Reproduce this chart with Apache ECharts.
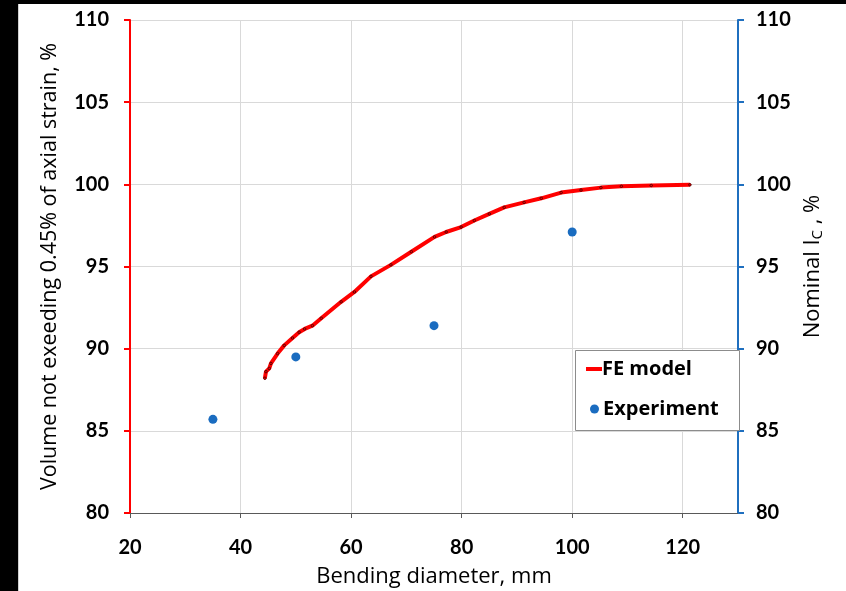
<!DOCTYPE html>
<html>
<head>
<meta charset="utf-8">
<script src="https://cdn.jsdelivr.net/npm/echarts@6/dist/echarts.min.js"></script>
<style>
html,body{margin:0;padding:0;background:#000;width:846px;height:591px;overflow:hidden;}
#chart{position:absolute;left:18px;top:4px;width:828px;height:587px;background:#fff;box-sizing:border-box;border-left:1px solid #d0d0d0;}
</style>
</head>
<body>
<div id="chart"></div>
<script>
// FE model curve (bending diameter mm, volume %)
var feX = [44.4, 44.6, 45.2, 45.5, 46.7, 47.9, 49.4, 50.6, 51.6, 53.0, 54.6, 58.2, 60.6, 63.6, 67.2, 70.9, 75.1, 77.2, 79.9, 82.3, 85.0, 87.7, 91.3, 94.4, 98.0, 101.6, 105.2, 108.9, 114.3, 121.3];
var feY = [88.2, 88.6, 88.8, 89.1, 89.7, 90.2, 90.65, 91.0, 91.2, 91.4, 91.85, 92.85, 93.45, 94.4, 95.1, 95.9, 96.8, 97.1, 97.4, 97.8, 98.2, 98.6, 98.9, 99.15, 99.5, 99.65, 99.8, 99.88, 99.93, 99.97];
// Experiment
var expX = [35, 50, 75, 100];
var expY = [85.7, 89.5, 91.4, 97.1];
var yTicks = [80, 85, 90, 95, 100, 105, 110];

var FONT = 'Lato, "Open Sans", sans-serif';
var TFONT = '"Open Sans", Lato, sans-serif';
var chart = echarts.init(document.getElementById('chart'));
var fe = feX.map(function (x, i) { return [x, feY[i]]; });
var ex = expX.map(function (x, i) { return [x, expY[i]]; });

chart.setOption({
  animation: false,
  textStyle: { fontFamily: FONT },
  grid: { left: 111, top: 16, right: 108, bottom: 78, outerBoundsMode: 'none', containLabel: false },
  xAxis: {
    type: 'value', min: 20, max: 130, interval: 20,
    name: 'Bending diameter, mm', nameLocation: 'middle', nameGap: 53,
    nameTextStyle: { fontSize: 22, color: '#000', fontFamily: TFONT },
    axisLine: { show: true, onZero: false, lineStyle: { color: '#595959', width: 1 } },
    axisTick: { show: true, inside: false, length: 5, lineStyle: { color: '#595959' } },
    axisLabel: { fontSize: 20, fontWeight: 'bold', color: '#000', margin: 25, showMaxLabel: false, fontFamily: FONT },
    splitLine: { show: true, lineStyle: { color: '#d9d9d9', width: 1 } }
  },
  yAxis: [{
    type: 'value', min: yTicks[0], max: yTicks[yTicks.length - 1], interval: 5,
    position: 'left',
    name: 'Volume not exeeding 0.45% of axial strain, %', nameLocation: 'middle', nameGap: 69, nameRotate: 90,
    nameTextStyle: { fontSize: 21.5, color: '#000', fontFamily: TFONT, padding: [0, 0, 0, 0] },
    axisLine: { show: true, lineStyle: { color: '#ff0000', width: 2 } },
    axisTick: { show: true, length: 6, lineStyle: { color: '#ff0000', width: 2 } },
    axisLabel: { fontSize: 20, fontWeight: 'bold', color: '#000', margin: 21, fontFamily: FONT },
    splitLine: { show: true, lineStyle: { color: '#d9d9d9', width: 1 } }
  }, {
    type: 'value', min: yTicks[0], max: yTicks[yTicks.length - 1], interval: 5,
    position: 'right',
    name: '{a|Nominal I}{s|C}{a| , %}', nameLocation: 'middle', nameGap: 50, nameRotate: 90,
    nameTextStyle: {
      color: '#000',
      rich: {
        a: { fontSize: 22, color: '#000', fontFamily: TFONT },
        s: { fontSize: 15, color: '#000', fontFamily: TFONT, padding: [10, 0, 0, 0] }
      }
    },
    axisLine: { show: true, lineStyle: { color: '#1f6fbf', width: 2 } },
    axisTick: { show: true, length: 6, lineStyle: { color: '#1f6fbf', width: 2 } },
    axisLabel: { fontSize: 20, fontWeight: 'bold', color: '#000', margin: 18, fontFamily: FONT },
    splitLine: { show: false }
  }],
  graphic: [{
    type: 'rect', left: 556, top: 346, z: 3,
    shape: { width: 164, height: 80 },
    style: { fill: '#fff', stroke: '#8c8c8c', lineWidth: 1 }
  }],
  legend: [{
    data: [{ name: 'FE model', icon: 'rect', itemStyle: { color: '#ff0000', borderWidth: 0 } }],
    left: 567, top: 355, z: 5, padding: 0,
    itemWidth: 16, itemHeight: 4,
    textStyle: { fontSize: 20, fontWeight: 'bold', color: '#000', fontFamily: TFONT, padding: [0, 0, 0, -5] }
  }, {
    data: [{ name: 'Experiment', icon: 'circle', itemStyle: { color: '#1a6cc0', opacity: 1 } }],
    left: 571, top: 395, z: 5, padding: 0,
    itemWidth: 9, itemHeight: 9,
    textStyle: { fontSize: 20, fontWeight: 'bold', color: '#000', fontFamily: TFONT, padding: [0, 0, 0, -1] }
  }],
  series: [{
    name: 'FE model', type: 'line', data: fe, yAxisIndex: 0,
    symbol: 'circle', symbolSize: 2.5, showSymbol: true,
    itemStyle: { color: '#ff0000', borderColor: '#5a0000', borderWidth: 1 },
    lineStyle: { color: '#ff0000', width: 4 },
    z: 3
  }, {
    name: 'Experiment', type: 'scatter', data: ex, yAxisIndex: 0,
    symbol: 'circle', symbolSize: 9,
    itemStyle: { color: '#1a6cc0', opacity: 1 },
    z: 4
  }]
});
</script>
</body>
</html>
